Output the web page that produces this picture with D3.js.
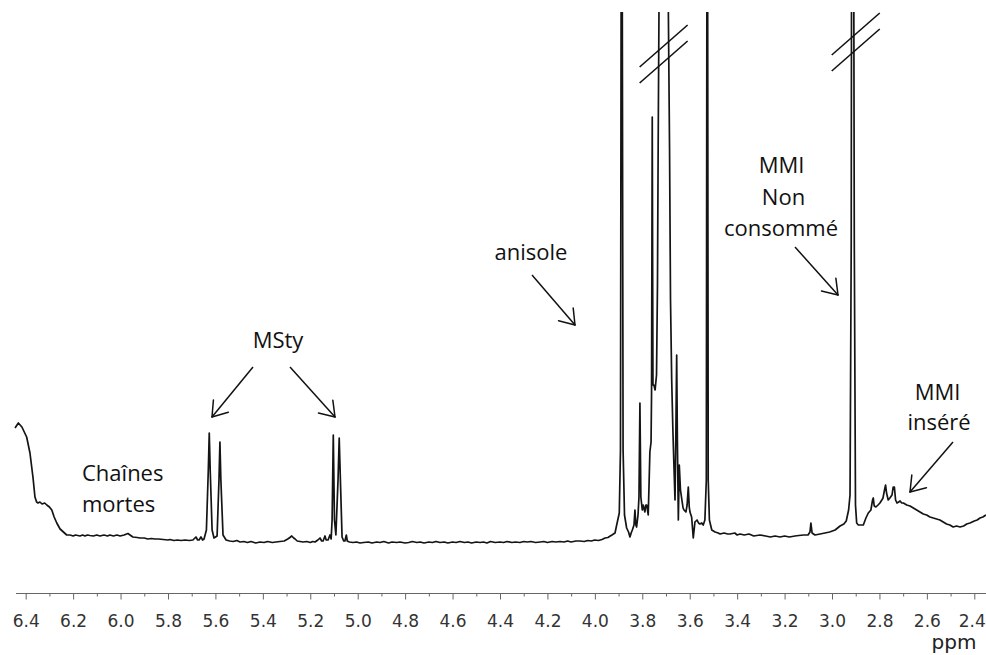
<!DOCTYPE html>
<html>
<head>
<meta charset="utf-8">
<script src="https://cdn.jsdelivr.net/npm/d3@7"></script>
<style>
  html, body { margin: 0; padding: 0; background: #fff; }
  svg { display: block; }
</style>
</head>
<body>
<svg id="chart" width="986" height="655"></svg>
<script>
// ---- Data (chemical shift in ppm, intensity in arbitrary units) ----
const spectrum = [
  [6.445,117],[6.431,122],[6.416,118],[6.396,108],[6.382,92],[6.369,67],[6.361,48],[6.354,43],[6.348,42],[6.340,43],
  [6.331,41],[6.320,42],[6.311,40],[6.300,38],[6.290,35],[6.280,28],[6.269,22],[6.255,16],[6.241,13],[6.227,10],
  [6.213,10],[6.200,9],[6.190,10],[6.171,9],[6.160,10],[6.150,9],[6.140,10],[6.129,9.5],[6.115,9],[6.100,10],
  [6.087,9],[6.070,10],[6.055,9],[6.045,10],[6.030,9],[6.015,10],[6.002,9],[5.985,10],[5.969,11.5],[5.960,10],
  [5.948,8],[5.930,7.5],[5.918,7],[5.900,7],[5.885,6],[5.870,6.5],[5.855,6],[5.840,6],[5.820,5.5],[5.800,5],
  [5.792,5.5],[5.775,4.5],[5.760,5],[5.745,4.5],[5.728,5],[5.710,4.5],[5.695,5],[5.682,8],[5.675,5],[5.669,5],
  [5.661,8],[5.654,5],[5.648,6],[5.638,15],[5.630,75],[5.626,112],[5.622,75],[5.614,15],[5.606,7],[5.593,9],
  [5.585,65],[5.581,103],[5.577,65],[5.568,10],[5.555,5],[5.540,4],[5.525,3.5],[5.510,4.5],[5.496,3],[5.480,3.5],
  [5.465,2.5],[5.450,3.5],[5.430,2],[5.412,3],[5.395,2.5],[5.380,3.5],[5.360,2.5],[5.345,3],[5.328,3.5],[5.310,4],
  [5.295,6],[5.286,7.5],[5.278,9],[5.270,7],[5.264,6],[5.255,4],[5.243,3.5],[5.230,3],[5.215,3.5],[5.200,2.5],
  [5.190,3.5],[5.180,3],[5.168,5],[5.159,7],[5.152,4],[5.146,4],[5.138,9],[5.133,5],[5.125,5],[5.117,10],
  [5.112,6],[5.108,25],[5.103,110],[5.098,25],[5.092,10],[5.083,65],[5.078,107],[5.073,65],[5.066,8],[5.059,4],
  [5.054,4],[5.048,10],[5.044,4],[5.035,3],[5.020,2.5],[5.005,3],[4.990,2],[4.975,2.5],[4.955,3],[4.940,2],
  [4.920,3],[4.906,2.5],[4.890,3.5],[4.870,2],[4.855,3],[4.835,2.5],[4.822,3],[4.800,2],[4.785,2.5],[4.770,3.5],
  [4.750,2.5],[4.737,3],[4.720,2],[4.700,3],[4.685,2.5],[4.670,3.5],[4.653,2.5],[4.635,3],[4.620,2],[4.600,3],
  [4.585,2.5],[4.569,3.5],[4.550,2.5],[4.535,3],[4.520,2],[4.500,3],[4.484,2.5],[4.470,3],[4.455,2],[4.440,3.5],
  [4.420,2.5],[4.400,3],[4.385,2.5],[4.370,3.5],[4.350,2.5],[4.335,3],[4.316,2.5],[4.300,3.5],[4.285,3],[4.270,3.5],
  [4.250,2.5],[4.231,3],[4.215,3.5],[4.200,2.5],[4.180,3.5],[4.165,3],[4.147,3.5],[4.130,3],[4.115,4],[4.100,3],
  [4.080,4],[4.063,4],[4.045,3.5],[4.030,4.5],[4.015,4],[4.000,5],[3.985,4.5],[3.970,5.5],[3.957,7],[3.945,7.5],
  [3.935,9],[3.928,10],[3.915,12],[3.908,20],[3.897,32],[3.892,95],[3.887,900],[3.881,95],[3.875,30],[3.866,17],
  [3.858,13],[3.852,8],[3.847,12],[3.842,15],[3.835,20],[3.831,35],[3.827,20],[3.824,18],[3.818,30],[3.814,48],
  [3.810,142],[3.806,48],[3.800,35],[3.796,40],[3.789,33],[3.785,40],[3.781,40],[3.775,30],[3.771,65],[3.768,93],
  [3.763,103],[3.761,150],[3.758,428],[3.755,160],[3.751,160],[3.746,155],[3.740,170],[3.736,260],[3.733,400],[3.729,560],
  [3.713,900],[3.691,560],[3.685,395],[3.681,245],[3.676,165],[3.671,115],[3.666,75],[3.662,45],[3.659,100],[3.655,190],
  [3.652,105],[3.648,25],[3.644,80],[3.639,55],[3.633,45],[3.628,37],[3.624,35],[3.616,33],[3.611,40],[3.606,58],
  [3.602,38],[3.599,33],[3.592,28],[3.585,7],[3.578,23],[3.569,25],[3.563,22],[3.557,21],[3.549,22],[3.543,20],
  [3.536,25],[3.530,65],[3.526,900],[3.522,65],[3.517,25],[3.507,15],[3.493,13],[3.480,12],[3.472,11],[3.455,12],
  [3.440,11],[3.430,11],[3.410,12],[3.400,10],[3.388,11],[3.370,10],[3.350,11],[3.330,9],[3.304,10],[3.280,9],
  [3.260,8],[3.240,9],[3.219,8],[3.200,9],[3.180,8],[3.156,9],[3.140,9.5],[3.120,10],[3.101,10],[3.093,13],
  [3.089,22],[3.084,12],[3.072,10],[3.050,11],[3.030,12],[3.010,13],[2.987,15],[2.966,19],[2.950,21],[2.940,24],
  [2.930,35],[2.924,50],[2.919,300],[2.916,900],[2.911,900],[2.906,300],[2.901,40],[2.896,22],[2.889,20],[2.882,20],
  [2.868,20],[2.857,27],[2.847,32],[2.836,35],[2.829,45],[2.826,47],[2.822,39],[2.815,38],[2.806,40],[2.798,42],
  [2.790,45],[2.785,47],[2.777,57],[2.774,60],[2.770,52],[2.763,45],[2.756,47],[2.747,50],[2.742,58],[2.737,58],
  [2.732,45],[2.726,42],[2.719,43],[2.713,44],[2.706,42],[2.699,42],[2.685,40],[2.671,39],[2.657,37],[2.643,35],
  [2.629,33],[2.615,31],[2.601,30],[2.587,28],[2.573,27],[2.559,26],[2.545,25],[2.531,23],[2.517,21],[2.503,20],
  [2.489,18],[2.475,19],[2.460,18],[2.445,19],[2.432,21],[2.418,22],[2.400,24],[2.388,25],[2.376,27],[2.364,28],
  [2.351,30]
];
const majorTicks = [6.4,6.2,6.0,5.8,5.6,5.4,5.2,5.0,4.8,4.6,4.4,4.2,4.0,3.8,3.6,3.4,3.2,3.0,2.8,2.6,2.4];
const minorTicks = [6.3,6.1,5.9,5.7,5.5,5.3,5.1,4.9,4.7,4.5,4.3,4.1,3.9,3.7,3.5,3.3,3.1,2.9,2.7,2.5];
const axisTitle = "ppm";
const labelMSty = ["MSty"];
const labelAnisole = ["anisole"];
const labelMMIfree = ["MMI", "Non", "consommé"];
const labelMMIins = ["MMI", "inséré"];
const labelDead = ["Chaînes", "mortes"];
const breakPeaks = [3.71, 2.90];

// ---- Scales ----
const svg = d3.select("#chart");
const x = d3.scaleLinear().domain([6.4, 2.4]).range([25.7, 974.3]);
const y = d3.scaleLinear().domain([0, 533]).range([545, 12]);
const axisY = 593.5;

// ---- Spectrum ----
svg.append("defs").append("clipPath").attr("id", "plotclip")
  .append("rect").attr("x", 0).attr("y", 12).attr("width", 986).attr("height", 580);

svg.append("path")
  .datum(spectrum)
  .attr("clip-path", "url(#plotclip)")
  .attr("fill", "none")
  .attr("stroke", "#141414")
  .attr("stroke-width", 1.7)
  .attr("stroke-linejoin", "round")
  .attr("d", d3.line().x(d => x(d[0])).y(d => y(d[1])));

// ---- Axis ----
const axisG = svg.append("g").attr("transform", `translate(0,${axisY})`);
axisG.append("line")
  .attr("x1", 16).attr("x2", 986).attr("y1", 0).attr("y2", 0)
  .attr("stroke", "#666").attr("stroke-width", 1);
const majorAxis = d3.axisBottom(x).tickValues(majorTicks).tickSize(6).tickPadding(15)
  .tickFormat(d3.format(".1f"));
axisG.append("g").call(majorAxis)
  .call(g => g.select(".domain").remove())
  .call(g => g.selectAll(".tick line").attr("stroke", "#666"))
  .call(g => g.selectAll(".tick text")
    .attr("font-family", "DejaVu Sans, Verdana, sans-serif")
    .attr("font-size", 17).attr("fill", "#333"))
  .call(g => g.selectAll(".tick").filter(d => d === 2.4).select("text")
    .attr("text-anchor", "end").attr("x", 11));
const minorAxis = d3.axisBottom(x).tickValues(minorTicks).tickSize(3).tickFormat("");
axisG.append("g").call(minorAxis)
  .call(g => g.select(".domain").remove())
  .call(g => g.selectAll(".tick line").attr("stroke", "#666"));

svg.append("text")
  .attr("x", 954).attr("y", 649)
  .attr("text-anchor", "middle")
  .attr("font-family", "DejaVu Sans, Verdana, sans-serif")
  .attr("font-size", 20).attr("fill", "#222")
  .text(axisTitle);

// ---- Break marks ----
breakPeaks.forEach((p, i) => {
  const cx = x(p);
  const cy = i === 0 ? 54 : 42;
  [-8, 8].forEach(off => {
    svg.append("line")
      .attr("x1", cx - 24).attr("y1", cy + off + 21)
      .attr("x2", cx + 24).attr("y2", cy + off - 21)
      .attr("stroke", "#111").attr("stroke-width", 1.6);
  });
});

// ---- Annotations ----
const font = "'Open Sans', Lato, sans-serif";
function textBlock(lines, xPos, yStart, lh, anchor) {
  lines.forEach((t, i) => {
    svg.append("text")
      .attr("x", Array.isArray(xPos) ? xPos[i] : xPos)
      .attr("y", yStart + i * lh)
      .attr("text-anchor", anchor)
      .attr("font-family", font)
      .attr("font-size", 22)
      .attr("fill", "#111")
      .text(t);
  });
}
textBlock(labelMSty, 278, 348, 32, "middle");
textBlock(labelAnisole, 531, 260, 32, "middle");
textBlock(labelMMIfree, [781.5, 783.5, 781], 173, 31.5, "middle");
textBlock(labelMMIins, [937.5, 939], 400, 30, "middle");
textBlock(labelDead, 82, 481, 31, "start");

function arrow(x1, y1, x2, y2) {
  svg.append("line")
    .attr("x1", x1).attr("y1", y1).attr("x2", x2).attr("y2", y2)
    .attr("stroke", "#111").attr("stroke-width", 1.5);
  const ang = Math.atan2(y1 - y2, x1 - x2);
  const L = 17, spread = Math.PI / 5.2;
  [ang - spread, ang + spread].forEach(a => {
    svg.append("line")
      .attr("x1", x2).attr("y1", y2)
      .attr("x2", x2 + L * Math.cos(a)).attr("y2", y2 + L * Math.sin(a))
      .attr("stroke", "#111").attr("stroke-width", 1.5)
      .attr("stroke-linecap", "round");
  });
}
arrow(253, 367, 212, 417);
arrow(290, 367, 335, 417);
arrow(532, 275, 575, 325);
arrow(795, 247, 838, 295);
arrow(953, 442, 910, 492);
</script>
</body>
</html>
